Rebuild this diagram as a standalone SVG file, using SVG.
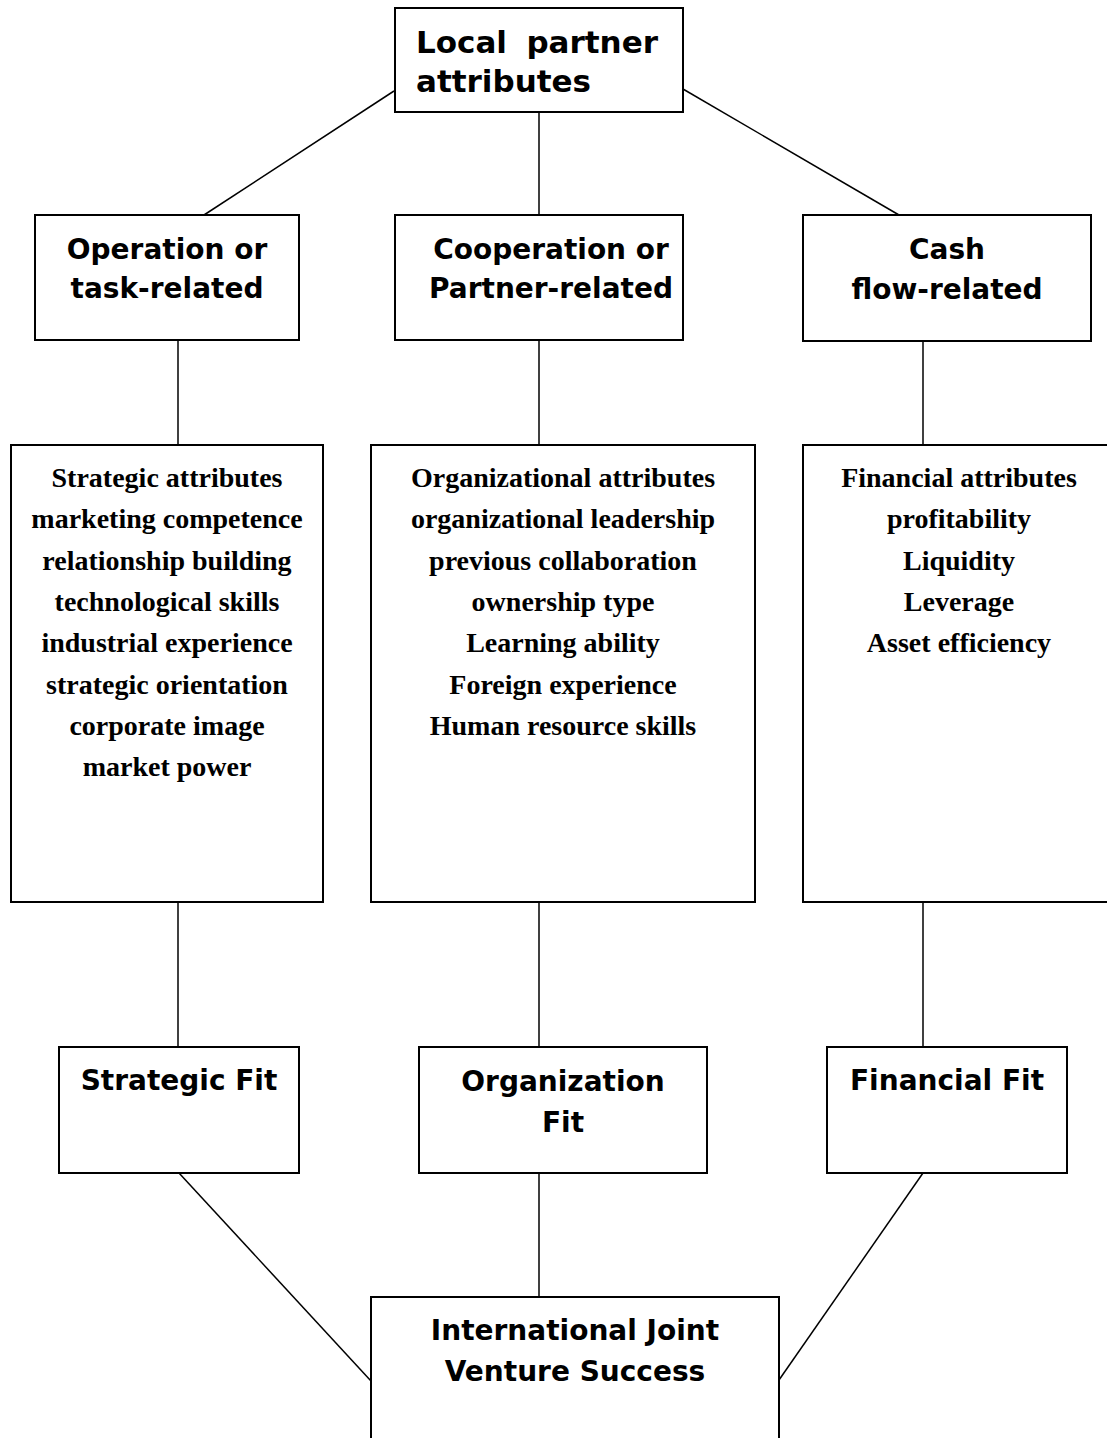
<svg xmlns="http://www.w3.org/2000/svg" width="1107" height="1438" viewBox="0 0 1107 1438">
<style>
.box{fill:#fff;stroke:#000;stroke-width:2}
.ln{stroke:#000;stroke-width:1.5;fill:none}
.h{font-family:"DejaVu Sans",Verdana,sans-serif;font-weight:bold;font-size:28px;fill:#000;text-anchor:middle}
.t{font-family:"DejaVu Sans",Verdana,sans-serif;font-weight:bold;font-size:31px;fill:#000}
.b{font-family:"Liberation Serif","Times New Roman",serif;font-weight:bold;font-size:28px;fill:#000;text-anchor:middle}
</style>
<rect width="1107" height="1438" fill="#fff"/>
<g id="connectors">
<line class="ln" x1="394" y1="91" x2="204" y2="215"/>
<line class="ln" x1="539" y1="112" x2="539" y2="215"/>
<line class="ln" x1="683" y1="89" x2="899" y2="215"/>
<line class="ln" x1="178" y1="340" x2="178" y2="445"/>
<line class="ln" x1="539" y1="340" x2="539" y2="445"/>
<line class="ln" x1="923" y1="341" x2="923" y2="445"/>
<line class="ln" x1="178" y1="902" x2="178" y2="1047"/>
<line class="ln" x1="539" y1="902" x2="539" y2="1047"/>
<line class="ln" x1="923" y1="902" x2="923" y2="1047"/>
<line class="ln" x1="179" y1="1173" x2="371" y2="1381"/>
<line class="ln" x1="539" y1="1173" x2="539" y2="1297"/>
<line class="ln" x1="923" y1="1173" x2="779" y2="1380"/>
</g>
<g id="local-partner">
<rect class="box" x="395" y="8" width="288" height="104"/>
<text class="t" x="416" y="53">Local</text>
<text class="t" x="658" y="53" text-anchor="end">partner</text>
<text class="t" x="416" y="92">attributes</text>
</g>
<g id="operation">
<rect class="box" x="35" y="215" width="264" height="125"/>
<text class="h" x="167" y="259">Operation or</text>
<text class="h" x="167" y="298">task-related</text>
</g>
<g id="cooperation">
<rect class="box" x="395" y="215" width="288" height="125"/>
<text class="h" x="551" y="259">Cooperation or</text>
<text class="h" x="551" y="298">Partner-related</text>
</g>
<g id="cashflow">
<rect class="box" x="803" y="215" width="288" height="126"/>
<text class="h" x="947" y="259">Cash</text>
<text class="h" x="947" y="299">flow-related</text>
</g>
<g id="strategic-attributes">
<rect class="box" x="11" y="445" width="312" height="457"/>
<text class="b" x="167" y="487">Strategic attributes</text>
<text class="b" x="167" y="528">marketing competence</text>
<text class="b" x="167" y="570">relationship building</text>
<text class="b" x="167" y="611">technological skills</text>
<text class="b" x="167" y="652">industrial experience</text>
<text class="b" x="167" y="694">strategic orientation</text>
<text class="b" x="167" y="735">corporate image</text>
<text class="b" x="167" y="776">market power</text>
</g>
<g id="organizational-attributes">
<rect class="box" x="371" y="445" width="384" height="457"/>
<text class="b" x="563" y="487">Organizational attributes</text>
<text class="b" x="563" y="528">organizational leadership</text>
<text class="b" x="563" y="570">previous collaboration</text>
<text class="b" x="563" y="611">ownership type</text>
<text class="b" x="563" y="652">Learning ability</text>
<text class="b" x="563" y="694">Foreign experience</text>
<text class="b" x="563" y="735">Human resource skills</text>
</g>
<g id="financial-attributes">
<rect class="box" x="803" y="445" width="320" height="457"/>
<text class="b" x="959" y="487">Financial attributes</text>
<text class="b" x="959" y="528">profitability</text>
<text class="b" x="959" y="570">Liquidity</text>
<text class="b" x="959" y="611">Leverage</text>
<text class="b" x="959" y="652">Asset efficiency</text>
</g>
<g id="strategic-fit">
<rect class="box" x="59" y="1047" width="240" height="126"/>
<text class="h" x="179" y="1090">Strategic Fit</text>
</g>
<g id="organization-fit">
<rect class="box" x="419" y="1047" width="288" height="126"/>
<text class="h" x="563" y="1091">Organization</text>
<text class="h" x="563" y="1132">Fit</text>
</g>
<g id="financial-fit">
<rect class="box" x="827" y="1047" width="240" height="126"/>
<text class="h" x="947" y="1090">Financial Fit</text>
</g>
<g id="ijv-success">
<rect class="box" x="371" y="1297" width="408" height="160"/>
<text class="h" x="575" y="1340">International Joint</text>
<text class="h" x="575" y="1381">Venture Success</text>
</g>
</svg>
